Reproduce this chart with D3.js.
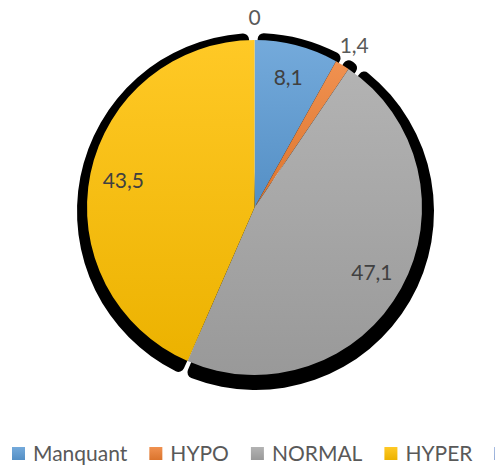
<!DOCTYPE html>
<meta charset="utf-8">
<head>
<title>pie</title>
<style>
body { margin: 0; background: #fff; }
svg { display: block; }
.lbl { font-family: Lato, "Liberation Sans", sans-serif; }
</style>
</head>
<body>
<svg width="495" height="465"></svg>
<script src="https://d3js.org/d3.v7.min.js"></script>
<script>

var categories = ["Manquant", "HYPO", "NORMAL", "HYPER", "Autre"];
var values = [8.1, 1.4, 47.1, 43.5, 0];
var labels = ["8,1", "1,4", "47,1", "43,5", "0"];
var colors = ["#5b9bd5", "#ed7d31", "#a5a5a5", "#ffc000", "#4472c4"];
// labels that Excel put outside the pie
var outside = [false, true, false, false, true];

var svg = d3.select("svg"),
    cx = 254.5, cy = 207.5, r = 167.5;

var defs = svg.append("defs");
colors.forEach(function(c, i) {
  var g = defs.append("linearGradient")
      .attr("id", "grad" + i)
      .attr("x1", 0).attr("y1", 0).attr("x2", 0).attr("y2", 1);
  g.append("stop").attr("offset", "0%").attr("stop-color", d3.interpolateRgb(c, "#fff")(0.15));
  g.append("stop").attr("offset", "100%").attr("stop-color", d3.color(c).darker(0.22));
});

var pie = d3.pie().sort(null).value(function(d) { return d; });
var arcs = pie(values);

// shadow: slightly larger, pushed down, with small gaps
var shadowArcs = d3.pie().sort(null).padAngle(0.025).value(function(d) { return d; })(values);
var shadowArc = d3.arc().innerRadius(0).outerRadius(r + 11).cornerRadius(6);

svg.append("g")
    .attr("transform", "translate(" + (cx + 1) + "," + (cy + 4) + ")")
  .selectAll("path")
  .data(shadowArcs.filter(function(d) { return d.value > 0; }))
  .enter().append("path")
    .attr("d", shadowArc)
    .attr("fill", "#000");

var arc = d3.arc().innerRadius(0).outerRadius(r);

var g = svg.append("g").attr("transform", "translate(" + cx + "," + cy + ")");

g.selectAll("path.slice")
  .data(arcs.filter(function(d) { return d.value > 0; }))
  .enter().append("path")
    .attr("class", "slice")
    .attr("d", arc)
    .attr("fill", function(d) { return "url(#grad" + d.index + ")"; });

var inArc = d3.arc().innerRadius(r * 0.8).outerRadius(r * 0.8);
var outArc = d3.arc().innerRadius(190).outerRadius(190);

g.selectAll("text")
  .data(arcs)
  .enter().append("text")
    .attr("class", "lbl")
    .attr("transform", function(d, i) {
      var p = outside[i] ? outArc.centroid(d) : inArc.centroid(d);
      return "translate(" + p + ")";
    })
    .attr("text-anchor", "middle")
    .attr("dy", "0.35em")
    .attr("font-size", 21)
    .attr("fill", function(d, i) { return outside[i] ? "#595959" : "#404040"; })
    .text(function(d, i) { return labels[i]; });

// legend along the bottom
var leg = svg.append("g").attr("transform", "translate(0,454)");
var x = 12;
categories.forEach(function(c, i) {
  leg.append("rect")
      .attr("x", x).attr("y", -7)
      .attr("width", 13).attr("height", 13)
      .attr("fill", "url(#grad" + i + ")");
  var t = leg.append("text")
      .attr("class", "lbl")
      .attr("x", x + 21)
      .attr("dy", "0.35em")
      .attr("font-size", 21)
      .attr("fill", "#595959")
      .text(c);
  x += 21 + t.node().getComputedTextLength() + 22;
});

</script>
</body>
</html>
